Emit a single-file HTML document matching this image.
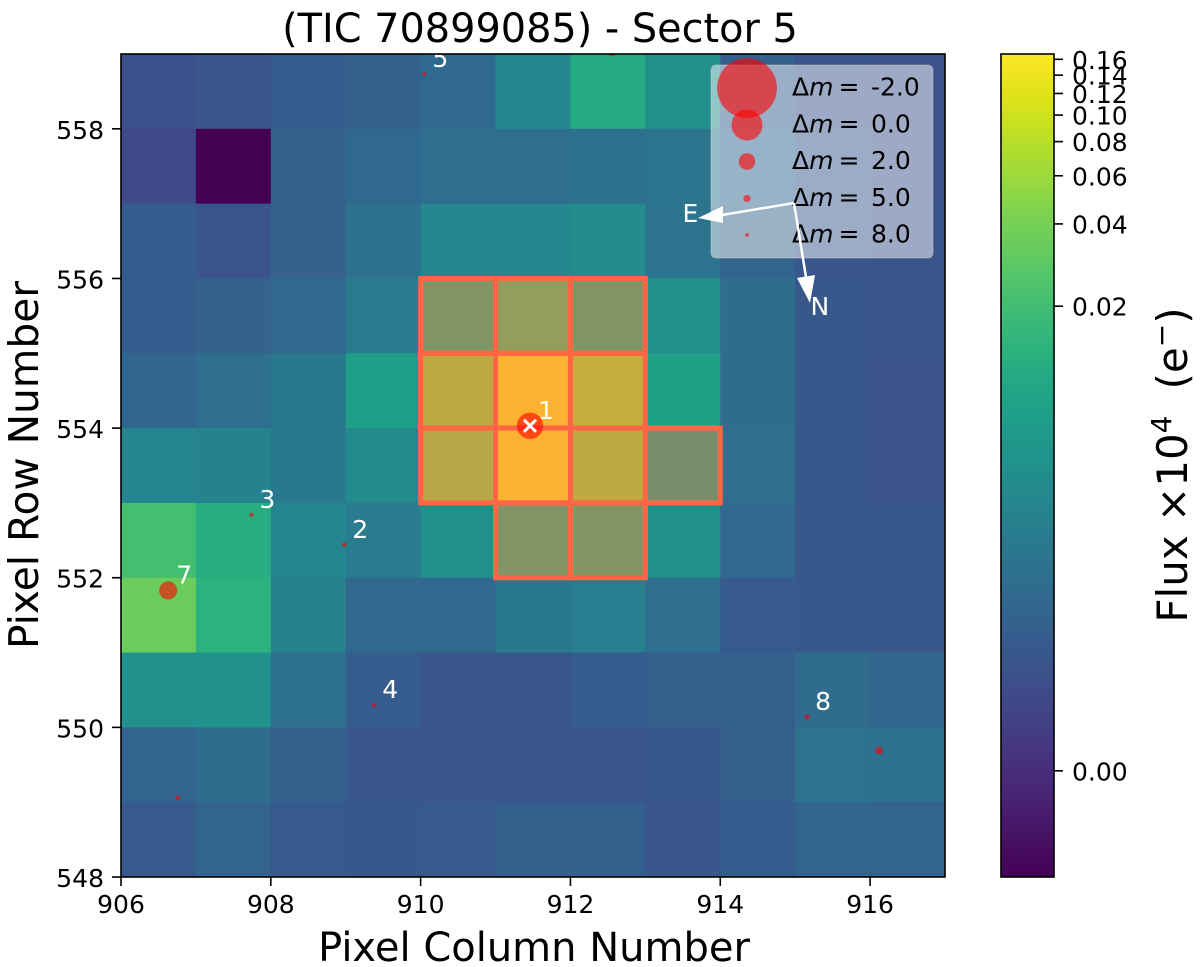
<!DOCTYPE html>
<html lang="en">
<head>
<meta charset="utf-8">
<title>TIC 70899085 - Sector 5</title>
<style>
  html, body { margin: 0; padding: 0; background: #fff; width: 1200px; height: 967px; overflow: hidden; }
  svg { display: block; font-family: "DejaVu Sans", "Liberation Sans", sans-serif; }
</style>
</head>
<body>
<svg id="chart" width="1200" height="967" viewBox="0 0 1200 967" xmlns="http://www.w3.org/2000/svg">
  <defs>
    <clipPath id="axes-clip"><rect x="121" y="54" width="824" height="823"/></clipPath>
    <linearGradient id="viridis-gradient" x1="0" y1="1" x2="0" y2="0"></linearGradient>
  </defs>
  <text x="540" y="42" font-size="39.8" text-anchor="middle" fill="#000">(TIC 70899085) - Sector 5</text>
  <g id="heatmap" clip-path="url(#axes-clip)"></g>
  <g id="aperture"></g>
  <g id="stars" clip-path="url(#axes-clip)"></g>
  <g id="star-labels"></g>
  <g id="legend">
    <rect x="711" y="65" width="222" height="193" rx="5" ry="5" fill="#fff" fill-opacity="0.5" stroke="#ccc" stroke-opacity="0.5"/>
  </g>
  <g id="compass">
    <line x1="794" y1="203" x2="722" y2="215" stroke="#fff" stroke-width="2.5"/>
    <polygon points="698,218 723,206 723,223" fill="#fff"/>
    <line x1="794" y1="203" x2="806" y2="277" stroke="#fff" stroke-width="2.5"/>
    <polygon points="810,303 797,278 815,275" fill="#fff"/>
    <text x="682.5" y="222" font-size="25" fill="#fff">E</text>
    <text x="810.5" y="315" font-size="25" fill="#fff">N</text>
  </g>
  <rect x="121" y="54" width="824" height="823" fill="none" stroke="#000" stroke-width="1.6"/>
  <g id="x-axis"></g>
  <g id="y-axis"></g>
  <text x="534" y="961" font-size="40" text-anchor="middle">Pixel Column Number</text>
  <text transform="translate(38,465) rotate(-90)" font-size="40.7" text-anchor="middle">Pixel Row Number</text>
  <rect x="1001" y="54" width="53" height="823" fill="url(#viridis-gradient)" stroke="#000" stroke-width="1.6"/>
  <g id="colorbar-axis"></g>
  <text transform="translate(1187,465) rotate(-90)" font-size="42" text-anchor="middle">Flux ×10<tspan dy="-16" font-size="28">4</tspan><tspan dy="16" dx="26">(e</tspan><tspan dy="-16" font-size="28">−</tspan><tspan dy="16">)</tspan></text>
</svg>
<script>
const columns = [906, 907, 908, 909, 910, 911, 912, 913, 914, 915, 916];
const rows = [558, 557, 556, 555, 554, 553, 552, 551, 550, 549, 548];
const flux558 = [0.00072, 0.00083, 0.00109, 0.00118, 0.00163, 0.00393, 0.0112, 0.00485, 0.00118, 0.00083, 0.00075];
const flux557 = [0.00056, -0.00081, 0.00129, 0.00163, 0.0019, 0.0019, 0.00206, 0.00238, 0.00151, 0.00091, 0.00075];
const flux556 = [0.00109, 0.00083, 0.00129, 0.00206, 0.00393, 0.00393, 0.00452, 0.00221, 0.0014, 0.00091, 0.00083];
const flux555 = [0.00109, 0.00129, 0.00163, 0.00274, 0.0148, 0.024, 0.0148, 0.00485, 0.00177, 0.00095, 0.00083];
const flux554 = [0.00151, 0.0019, 0.00256, 0.0079, 0.055, 0.156, 0.063, 0.0085, 0.00177, 0.00095, 0.00078];
const flux553 = [0.00366, 0.00341, 0.00256, 0.00422, 0.048, 0.167, 0.055, 0.0104, 0.0019, 0.00095, 0.00076];
const flux552 = [0.021, 0.012, 0.00366, 0.00274, 0.00485, 0.0148, 0.0158, 0.00485, 0.00163, 0.00095, 0.00095];
const flux551 = [0.034, 0.0138, 0.00341, 0.00163, 0.00163, 0.00256, 0.00295, 0.0019, 0.001, 0.00095, 0.00095];
const flux550 = [0.0052, 0.0052, 0.00206, 0.00109, 0.00085, 0.00088, 0.00109, 0.00118, 0.00118, 0.00177, 0.00151];
const flux549 = [0.0014, 0.00177, 0.00118, 0.00091, 0.00083, 0.00083, 0.00091, 0.00095, 0.00118, 0.00221, 0.00206];
const flux548 = [0.001, 0.0014, 0.001, 0.00095, 0.001, 0.00118, 0.00118, 0.00091, 0.00109, 0.0014, 0.0014];
const fluxRows = [flux558, flux557, flux556, flux555, flux554, flux553, flux552, flux551, flux550, flux549, flux548];
const xTicks = [906, 908, 910, 912, 914, 916];
const yTicks = [548, 550, 552, 554, 556, 558];
const colorbarTicks = [0, 0.02, 0.04, 0.06, 0.08, 0.10, 0.12, 0.14, 0.16];
const colorbarTickLabels = ['0.00', '0.02', '0.04', '0.06', '0.08', '0.10', '0.12', '0.14', '0.16'];
const apertureCols = [910, 911, 912, 910, 911, 912, 910, 911, 912, 913, 911, 912];
const apertureRows = [555, 555, 555, 554, 554, 554, 553, 553, 553, 553, 552, 552];
const starCols = [911.46, 908.98, 907.74, 909.38, 910.05, 912.56, 906.63, 915.16, 906.76, 916.12];
const starRows = [554.03, 552.44, 552.84, 550.30, 558.73, 559.03, 551.83, 550.14, 549.06, 549.69];
const starMags = [0.5, 7, 7, 7, 8, 4, 1.7, 6.3, 7, 4.7];
const starLabels = ['1', '2', '3', '4', '5', '', '7', '8', '', ''];
const legendMags = [-2, 0, 2, 5, 8];
const legendLabels = ['-2.0', '0.0', '2.0', '5.0', '8.0'];

const viridis = ['#440154','#471365','#482475','#463480','#414487','#3b528b','#355f8d','#2f6c8e','#2a788e','#25858e','#21918c','#1e9c89','#22a884','#2fb47c','#44bf70','#5ec962','#7ad151','#9bd93c','#bddf26','#dfe318','#fde725'];
const NS = 'http://www.w3.org/2000/svg';
const xScale = v => 121 + (v - 906) * 824 / 11;
const yScale = v => 877 - (v - 548) * 823 / 11;
const normFlux = v => 0.129 + 0.1443 * Math.asinh(v / 0.0008);
const colorbarY = v => 877 - normFlux(v) * 823;
const starRadius = m => 1 + 14.5 * Math.pow(10, -0.15 * m);
function hexRgb(h) {
  return [1, 3, 5].map(i => parseInt(h.substr(i, 2), 16));
}
function viridisColor(t) {
  const c = Math.max(0, Math.min(1, t)) * (viridis.length - 1);
  const i = Math.min(Math.floor(c), viridis.length - 2);
  const a = hexRgb(viridis[i]);
  const b = hexRgb(viridis[i + 1]);
  const f = c - i;
  return 'rgb(' + a.map((x, k) => Math.round(x + (b[k] - x) * f)).join(',') + ')';
}
function make(tag, parent, attrs, text) {
  const el = document.createElementNS(NS, tag);
  for (const k in attrs) el.setAttribute(k, attrs[k]);
  if (text !== undefined) el.textContent = text;
  parent.appendChild(el);
  return el;
}
const gradient = document.getElementById('viridis-gradient');
viridis.forEach((c, i) => {
  make('stop', gradient, { offset: i / (viridis.length - 1), 'stop-color': c });
});

const heatmap = document.getElementById('heatmap');
rows.forEach((row, r) => {
  columns.forEach((col, c) => {
    const cell = make('rect', heatmap, {
      x: xScale(col), y: yScale(row + 1),
      width: xScale(col + 1) - xScale(col) + 0.5,
      height: yScale(row) - yScale(row + 1) + 0.5,
      fill: viridisColor(normFlux(fluxRows[r][c]))
    });
    
    
  });
});

const aperture = document.getElementById('aperture');
apertureCols.forEach((col, i) => {
  const cell = make('rect', aperture, {
    x: xScale(col), y: yScale(apertureRows[i] + 1),
    width: xScale(col + 1) - xScale(col),
    height: yScale(apertureRows[i]) - yScale(apertureRows[i] + 1),
    fill: 'rgba(255,99,71,0.4)', stroke: '#ff6644', 'stroke-width': 5
  });
  
  
});

const stars = document.getElementById('stars');
const labelsGroup = document.getElementById('star-labels');
starCols.forEach((col, i) => {
  const sx = xScale(col);
  const sy = yScale(starRows[i]);
  const star = make('circle', stars, { cx: sx, cy: sy, r: starRadius(starMags[i]), fill: 'rgba(255,0,0,0.6)' });
  
  
  if (starLabels[i]) {
    const label = make('text', labelsGroup, { x: sx + 8, y: sy - 7, 'font-size': 25, fill: '#fff' }, starLabels[i]);
    
    
  }
});
const targetX = xScale(starCols[0]);
const targetY = yScale(starRows[0]);
const crossA = make('line', stars, { x1: targetX - 6, y1: targetY - 6, x2: targetX + 6, y2: targetY + 6, stroke: '#fff', 'stroke-width': 3 });


const crossB = make('line', stars, { x1: targetX - 6, y1: targetY + 6, x2: targetX + 6, y2: targetY - 6, stroke: '#fff', 'stroke-width': 3 });



const legend = document.getElementById('legend');
const legendRowY = [88, 125, 161.5, 198.5, 235];
legendMags.forEach((m, i) => {
  const dot = make('circle', legend, { cx: 747, cy: legendRowY[i], r: starRadius(m), fill: 'rgba(255,0,0,0.6)' });
  
  
  const entry = make('text', legend, { x: 792, y: legendRowY[i] + 7.5, 'font-size': 25, fill: '#000' });
  
  
  make('tspan', entry, {}, 'Δ');
  make('tspan', entry, { 'font-style': 'italic' }, 'm');
  make('tspan', entry, { dx: 5 }, '=');
  make('tspan', entry, { x: 871 }, legendLabels[i]);
});

const xAxis = document.getElementById('x-axis');
xTicks.forEach(v => {
  const tick = make('line', xAxis, { x1: xScale(v), y1: 877, x2: xScale(v), y2: 886, stroke: '#000', 'stroke-width': 1.6 });
  
  
  const label = make('text', xAxis, { x: xScale(v), y: 913, 'font-size': 25, 'text-anchor': 'middle' }, String(v));
  
  
});
const yAxis = document.getElementById('y-axis');
yTicks.forEach(v => {
  const tick = make('line', yAxis, { x1: 112, y1: yScale(v), x2: 121, y2: yScale(v), stroke: '#000', 'stroke-width': 1.6 });
  
  
  const label = make('text', yAxis, { x: 104, y: yScale(v) + 10, 'font-size': 25, 'text-anchor': 'end' }, String(v));
  
  
});
const colorbarAxis = document.getElementById('colorbar-axis');
colorbarTicks.forEach((v, i) => {
  const tick = make('line', colorbarAxis, { x1: 1054, y1: colorbarY(v), x2: 1063, y2: colorbarY(v), stroke: '#000', 'stroke-width': 1.6 });
  
  
  const label = make('text', colorbarAxis, { x: 1072, y: colorbarY(v) + 9.5, 'font-size': 25 }, colorbarTickLabels[i]);
  
  
});
</script>
</body>
</html>
